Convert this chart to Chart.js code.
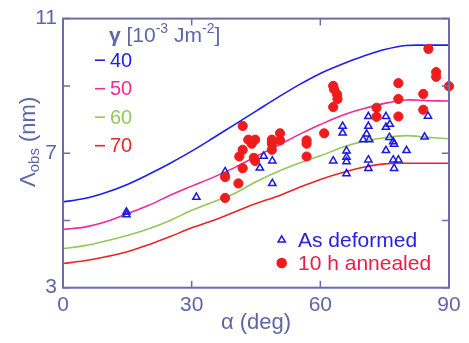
<!DOCTYPE html>
<html>
<head>
<meta charset="utf-8">
<script src="https://cdn.jsdelivr.net/npm/chart.js@4.4.1/dist/chart.umd.min.js"></script>
<style>
html, body { margin: 0; padding: 0; background: #fff; }
</style>
</head>
<body>
<canvas id="GammaChart" width="469" height="343"></canvas>
<script>
// alpha (deg) where the model curves were read
const angles = [0, 5, 10, 15, 20, 25, 30, 35, 40, 45, 50, 55, 60, 65, 70, 75, 80, 85, 90];

// model curves for gamma = 40, 50, 60, 70 (10^-3 J m^-2)
const gamma40 = [5.55, 5.65, 5.83, 6.07, 6.37, 6.70, 7.06, 7.45, 7.85, 8.25, 8.65, 9.03, 9.37, 9.64, 9.88, 10.08, 10.20, 10.21, 10.21];
const gamma50 = [4.73, 4.80, 4.96, 5.20, 5.45, 5.75, 6.02, 6.28, 6.57, 6.90, 7.22, 7.55, 7.85, 8.12, 8.32, 8.48, 8.58, 8.56, 8.55];
const gamma60 = [4.16, 4.25, 4.39, 4.55, 4.75, 5.00, 5.30, 5.55, 5.80, 6.15, 6.45, 6.70, 6.92, 7.17, 7.35, 7.46, 7.52, 7.47, 7.43];
const gamma70 = [3.72, 3.80, 3.92, 4.07, 4.28, 4.52, 4.78, 5.00, 5.25, 5.50, 5.72, 5.98, 6.22, 6.42, 6.58, 6.68, 6.70, 6.70, 6.70];

// measured points: [alpha, Lambda_obs]
const asDeformed = [
    [14.8, 5.17], [14.8, 5.25], [31.1, 5.69], [37.8, 6.45], [45.9, 6.56], [46.8, 6.91], [48.8, 6.77], [48.8, 6.10],
    [63.0, 6.77], [65.2, 7.80], [65.2, 7.60], [66.1, 7.07], [66.1, 6.88], [66.1, 6.75], [66.1, 6.39],
    [70.0, 7.40], [70.8, 7.57], [71.2, 7.80], [71.2, 8.09], [71.4, 7.40], [71.2, 6.80], [71.2, 6.55],
    [75.3, 8.09], [75.3, 7.77], [76.2, 7.86], [76.1, 7.47], [77.0, 7.34], [77.2, 7.27], [75.3, 7.08],
    [77.0, 6.80], [78.2, 6.80], [77.2, 6.55], [80.1, 7.08], [84.3, 7.48], [85.1, 8.10]
];
const annealed10h = [
    [37.8, 5.67], [37.8, 6.29], [40.9, 6.10], [41.9, 6.55], [41.1, 6.90], [41.9, 7.10], [41.9, 7.81],
    [43.2, 7.40], [44.0, 7.28], [44.8, 7.40], [44.5, 6.86], [44.8, 6.77],
    [48.7, 7.40], [48.7, 7.28], [48.7, 7.10], [50.6, 7.59], [50.6, 7.38],
    [56.8, 7.38], [56.8, 7.28], [56.8, 6.90], [60.9, 7.59],
    [63.0, 9.00], [63.2, 8.90], [63.9, 8.75], [64.0, 8.61], [63.0, 8.37],
    [73.1, 8.35], [73.1, 8.08], [78.2, 9.08], [78.2, 8.61], [78.2, 8.09],
    [84.0, 8.76], [84.0, 8.29], [85.2, 10.10], [87.0, 9.41], [87.0, 9.27], [90.0, 8.99]
];

const gammaLabels = ['40', '50', '60', '70'];
const xTicks = [0, 30, 60, 90];
const yTicks = [3, 5, 7, 9, 11];
const yLabelled = [3, 7, 11];

const curveColors = ['#1f1fe8', '#f02a9c', '#94c858', '#e8262a'];
const axisColor = '#6c6ca8';
const textColor = '#5f66a6';
const FONT = '"Liberation Sans", Arial, sans-serif';

function toPoints(xs, ys) {
    return xs.map((x, i) => ({ x: x, y: ys[i] }));
}
function pairs(list) {
    return list.map(p => ({ x: p[0], y: p[1] }));
}

const curveSets = [gamma40, gamma50, gamma60, gamma70].map((vals, i) => ({
    type: 'line',
    label: gammaLabels[i],
    data: toPoints(angles, vals),
    borderColor: curveColors[i],
    borderWidth: 1.6,
    pointRadius: 0,
    tension: 0.35,
    fill: false,
    order: 2
}));

// frame, inward ticks and the annotations
const framePlugin = {
    id: 'frame',
    afterDraw(chart) {
        const ctx = chart.ctx;
        const a = chart.chartArea;
        const xs = chart.scales.x;
        const ys = chart.scales.y;
        ctx.save();
        ctx.strokeStyle = axisColor;
        ctx.lineWidth = 2;
        ctx.strokeRect(a.left, a.top, a.right - a.left, a.bottom - a.top);
        ctx.lineWidth = 1.5;
        ctx.beginPath();
        xTicks.forEach(v => {
            const px = xs.getPixelForValue(v);
            ctx.moveTo(px, a.bottom); ctx.lineTo(px, a.bottom - 7);
            ctx.moveTo(px, a.top); ctx.lineTo(px, a.top + 7);
        });
        yTicks.forEach(v => {
            const py = ys.getPixelForValue(v);
            ctx.moveTo(a.left, py); ctx.lineTo(a.left + 7, py);
            ctx.moveTo(a.right, py); ctx.lineTo(a.right - 7, py);
        });
        ctx.stroke();

        // y title: Lambda_obs (nm)
        ctx.translate(35, 187);
        ctx.rotate(-Math.PI / 2);
        ctx.fillStyle = textColor;
        ctx.textBaseline = 'alphabetic';
        ctx.font = '22px ' + FONT;
        ctx.fillText('Λ', 0, 0);
        let w = ctx.measureText('Λ').width;
        ctx.font = '15px ' + FONT;
        ctx.fillText('obs', w, 4);
        w += ctx.measureText('obs').width;
        ctx.font = '22px ' + FONT;
        ctx.fillText(' (nm)', w, 0);
        ctx.setTransform(1, 0, 0, 1, 0, 0);

        // gamma header
        let x = 109;
        const base = 42;
        const seg = (txt, size, dy, bold) => {
            ctx.font = (bold ? 'bold ' : '') + size + 'px ' + FONT;
            ctx.fillText(txt, x, base + dy);
            x += ctx.measureText(txt).width;
        };
        ctx.fillStyle = textColor;
        seg('γ', 21, 0, true);
        seg(' [10', 21, 0);
        seg('-3', 14, -9);
        seg(' Jm', 21, 0);
        seg('-2', 14, -9);
        seg(']', 21, 0);

        // gamma value list
        gammaLabels.forEach((lab, i) => {
            const y = 66.7 + i * 28.5;
            ctx.strokeStyle = curveColors[i];
            ctx.lineWidth = 1.6;
            ctx.beginPath();
            ctx.moveTo(95, y - 6.5); ctx.lineTo(105, y - 6.5);
            ctx.stroke();
            ctx.fillStyle = curveColors[i];
            ctx.font = '20px ' + FONT;
            ctx.fillText(lab, 110, y);
        });

        // marker legend
        ctx.lineWidth = 1.5;
        ctx.strokeStyle = '#1a1ae0';
        ctx.fillStyle = 'rgba(0,0,0,0)';
        Chart.helpers.drawPoint(ctx, { pointStyle: 'triangle', radius: 4.2, rotation: 0, borderWidth: 1.5 }, 281.7, 240);
        ctx.fillStyle = '#ee1c1c';
        ctx.strokeStyle = '#ee1c1c';
        Chart.helpers.drawPoint(ctx, { pointStyle: 'circle', radius: 4.5, rotation: 0, borderWidth: 1 }, 281.7, 263);
        ctx.font = '21px ' + FONT;
        ctx.textBaseline = 'middle';
        ctx.fillStyle = '#2a20e0';
        ctx.fillText('As deformed', 298, 241);
        ctx.fillStyle = '#e6204a';
        ctx.fillText('10 h annealed', 298, 264);
        ctx.restore();
    }
};

const config = {
    type: 'scatter',
    data: {
        datasets: [
            {
                label: 'As deformed',
                data: pairs(asDeformed),
                pointStyle: 'triangle',
                pointRadius: 4.2,
                borderColor: '#1a1ae0',
                backgroundColor: 'rgba(0,0,0,0)',
                borderWidth: 1.5,
                clip: 10,
                order: 1
            },
            {
                label: '10 h annealed',
                data: pairs(annealed10h),
                pointStyle: 'circle',
                pointRadius: 4.6,
                borderColor: '#ee1c1c',
                backgroundColor: '#ee1c1c',
                borderWidth: 1,
                clip: 10,
                order: 0
            },
            ...curveSets
        ]
    },
    options: {
        responsive: false,
        animation: false,
        layout: { padding: { top: 5.5, right: 20, left: 0, bottom: 0 } },
        plugins: {
            legend: { display: false },
            tooltip: { enabled: false }
        },
        scales: {
            x: {
                type: 'linear',
                min: 0,
                max: 90,
                afterBuildTicks: s => { s.ticks = xTicks.map(v => ({ value: v })); },
                afterFit: s => { s.height = 55.3; },
                grid: { display: false, drawTicks: false },
                border: { display: false },
                ticks: {
                    color: textColor,
                    font: { size: 21, family: FONT },
                    padding: 5,
                    maxRotation: 0
                },
                title: {
                    display: true,
                    text: 'α (deg)',
                    color: textColor,
                    font: { size: 22, family: FONT },
                    padding: { top: 0, bottom: 7 }
                }
            },
            y: {
                min: 3,
                max: 11,
                afterBuildTicks: s => { s.ticks = yTicks.map(v => ({ value: v })); },
                afterFit: s => { s.width = 63; },
                grid: { display: false, drawTicks: false },
                border: { display: false },
                ticks: {
                    color: textColor,
                    font: { size: 21, family: FONT },
                    padding: 6,
                    callback: v => yLabelled.includes(v) ? String(v) : ''
                }
            }
        }
    },
    plugins: [framePlugin]
};

const GammaChart = new Chart(document.getElementById('GammaChart'), config);
</script>
</body>
</html>
